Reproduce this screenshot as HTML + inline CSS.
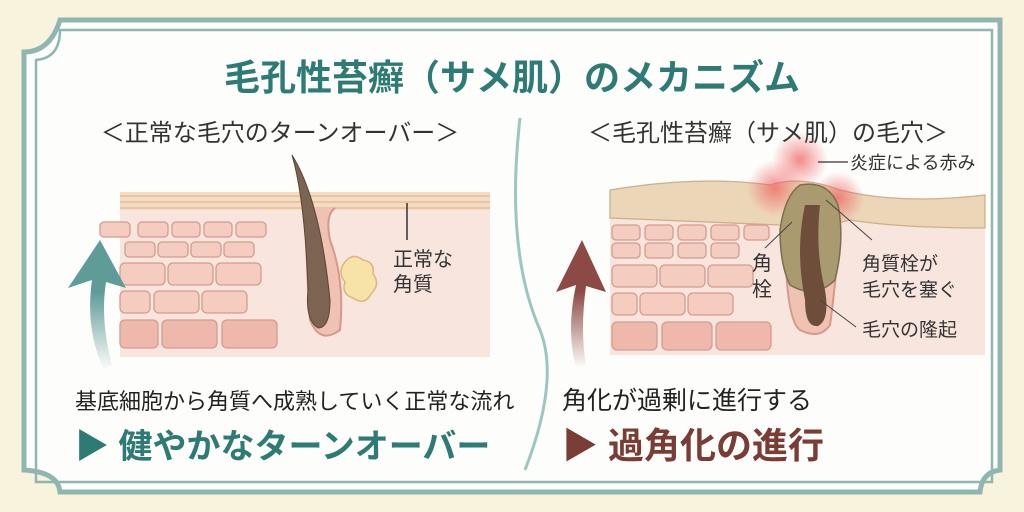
<!DOCTYPE html>
<html><head><meta charset="utf-8"><style>
html,body{margin:0;padding:0;width:1024px;height:512px;overflow:hidden;background:#f8f3dc}
svg{display:block}
text{font-family:"Liberation Sans","Noto Sans CJK JP",sans-serif}
</style></head><body>
<svg width="1024" height="512" viewBox="0 0 1024 512" xmlns="http://www.w3.org/2000/svg">
<defs>
<radialGradient id="red" cx="0.5" cy="0.5" r="0.5">
<stop offset="0" stop-color="#ee5a5a" stop-opacity="0.7"/>
<stop offset="1" stop-color="#ee5a5a" stop-opacity="0"/>
</radialGradient>
<linearGradient id="ar1" x1="0" y1="1" x2="0" y2="0"><stop offset="0" stop-color="#5f9c98" stop-opacity="0"/><stop offset="0.6" stop-color="#5f9c98"/></linearGradient>
<linearGradient id="ar2" x1="0" y1="1" x2="0" y2="0"><stop offset="0" stop-color="#8d4a44" stop-opacity="0"/><stop offset="0.6" stop-color="#8d4a44"/></linearGradient>
</defs>
<path d="M60 20 H1000 V470 Q982 472 980 492 H60 Q58 472 24 470 V52 Q50 52 60 20 Z" fill="#fdfdfb" stroke="#8fb6b0" stroke-width="5"/>
<path d="M60 30 H992 V482 H36 V60 Q60 58 60 30 Z" fill="none" stroke="#8fb6b0" stroke-width="2.5"/>
<text x="512" y="90" font-size="36" font-weight="bold" fill="#2e7a74" text-anchor="middle">毛孔性苔癬（サメ肌）のメカニズム</text>
<text x="280" y="141" font-size="24" fill="#333" text-anchor="middle">＜正常な毛穴のターンオーバー＞</text>
<text x="768" y="141" font-size="24" fill="#333" text-anchor="middle">＜毛孔性苔癬（サメ肌）の毛穴＞</text>
<path d="M520 118 Q505 250 540 330 Q560 380 525 470" fill="none" stroke="#9cc6c0" stroke-width="3"/>
<rect x="120" y="192" width="370" height="165" fill="#f8e6de"/>
<rect x="120" y="192" width="370" height="18" fill="#f3dcc4"/>
<path d="M120 196 H490 M120 202 H490 M120 208 H490" stroke="#e4b58f" stroke-width="1.3"/>
<g fill="#f4ccc0" stroke="#d49c8e" stroke-width="1.3">
<rect x="100" y="222" width="30" height="15" rx="4"/><rect x="138" y="222" width="30" height="15" rx="4"/><rect x="172" y="222" width="28" height="15" rx="4"/><rect x="204" y="222" width="28" height="15" rx="4"/><rect x="236" y="222" width="30" height="15" rx="4"/>
<rect x="125" y="242" width="30" height="15" rx="4"/><rect x="158" y="242" width="30" height="15" rx="4"/><rect x="191" y="242" width="30" height="15" rx="4"/><rect x="224" y="242" width="30" height="15" rx="4"/>
<rect x="120" y="263" width="45" height="22" rx="5"/><rect x="168" y="263" width="45" height="22" rx="5"/><rect x="216" y="263" width="45" height="22" rx="5"/>
<rect x="120" y="291" width="30" height="22" rx="5"/><rect x="154" y="291" width="45" height="22" rx="5"/><rect x="202" y="291" width="45" height="22" rx="5"/>
<rect x="120" y="320" width="38" height="28" rx="5" fill="#eeb9ac"/><rect x="162" y="320" width="55" height="28" rx="5" fill="#eeb9ac"/><rect x="222" y="320" width="55" height="28" rx="5" fill="#eeb9ac"/>
</g>
<path d="M305 208 Q308 300 310 320 Q320 345 340 330 Q345 280 330 240 Q325 215 335 208" fill="#f0c2b4" stroke="#d7978a" stroke-width="2"/>
<path d="M345 262 q8 -10 18 -2 q12 2 10 14 q8 10 -2 20 q-6 12 -18 4 q-12 -4 -8 -16 q-8 -10 0 -20z" fill="#f7e3a8" stroke="#dfb57e" stroke-width="1.5"/>
<path d="M292 155 Q320 200 330 300 Q330 328 318 328 Q305 320 308 290 Q305 200 292 155Z" fill="#7d6452" stroke="#5a4535" stroke-width="1"/>
<line x1="407" y1="203" x2="407" y2="240" stroke="#333" stroke-width="1.5"/>
<text x="393" y="266" font-size="20" fill="#333">正常な</text>
<text x="393" y="291" font-size="20" fill="#333">角質</text>
<path d="M104 370 Q85 330 92 280 L68 288 L100 240 L126 288 L106 282 Q100 320 112 365Z" fill="url(#ar1)"/>
<rect x="610" y="200" width="375" height="155" fill="#f8e6de"/>
<path d="M610 190 Q700 175 770 185 Q800 175 840 190 Q900 205 985 195 L985 228 Q900 228 850 220 L830 225 L780 225 Q700 222 610 218Z" fill="#ecd6b8" stroke="#cfae8a" stroke-width="1.3"/>
<circle cx="775" cy="188" r="28" fill="url(#red)"/><circle cx="838" cy="198" r="26" fill="url(#red)"/><circle cx="800" cy="160" r="28" fill="url(#red)"/>
<g fill="#f4ccc0" stroke="#d49c8e" stroke-width="1.3">
<rect x="612" y="225" width="28" height="15" rx="4"/><rect x="645" y="225" width="28" height="15" rx="4"/><rect x="678" y="225" width="28" height="15" rx="4"/><rect x="711" y="225" width="28" height="15" rx="4"/><rect x="744" y="225" width="25" height="15" rx="4"/>
<rect x="612" y="243" width="28" height="15" rx="4"/><rect x="645" y="243" width="28" height="15" rx="4"/><rect x="678" y="243" width="28" height="15" rx="4"/><rect x="711" y="243" width="28" height="15" rx="4"/>
<rect x="612" y="265" width="45" height="22" rx="5"/><rect x="660" y="265" width="45" height="22" rx="5"/><rect x="708" y="265" width="45" height="22" rx="5"/>
<rect x="612" y="293" width="25" height="22" rx="5"/><rect x="640" y="293" width="45" height="22" rx="5"/><rect x="688" y="293" width="45" height="22" rx="5"/>
<rect x="612" y="322" width="45" height="28" rx="5" fill="#eeb9ac"/><rect x="662" y="322" width="50" height="28" rx="5" fill="#eeb9ac"/><rect x="716" y="322" width="55" height="28" rx="5" fill="#eeb9ac"/>
</g>
<path d="M785 225 Q785 320 800 330 Q820 340 830 325 Q835 290 840 225Z" fill="#f0c2b4" stroke="#d7978a" stroke-width="2"/>
<path d="M800 185 Q785 195 780 230 Q780 265 790 285 Q815 300 835 280 Q845 240 838 205 Q828 180 800 185Z" fill="#a99a70" stroke="#7c6e4c" stroke-width="1.5"/>
<path d="M805 205 Q795 250 805 300 Q805 328 818 326 Q830 320 825 290 Q815 250 820 205Z" fill="#6e4e3a"/>
<line x1="818" y1="162" x2="848" y2="162" stroke="#333" stroke-width="1.2"/>
<text x="850" y="169" font-size="18" fill="#333">炎症による赤み</text>
<line x1="765" y1="248" x2="792" y2="222" stroke="#444" stroke-width="1"/>
<line x1="826" y1="200" x2="872" y2="240" stroke="#444" stroke-width="1"/>
<line x1="820" y1="300" x2="856" y2="327" stroke="#444" stroke-width="1"/>
<text x="752" y="270" font-size="20" fill="#333">角</text>
<text x="752" y="296" font-size="20" fill="#333">栓</text>
<text x="862" y="270" font-size="19" fill="#333">角質栓が</text>
<text x="862" y="296" font-size="19" fill="#333">毛穴を塞ぐ</text>
<text x="862" y="336" font-size="19" fill="#333">毛穴の隆起</text>
<path d="M576 368 Q566 330 576 285 L556 292 L582 240 L606 292 L586 286 Q580 330 586 365Z" fill="url(#ar2)"/>
<text x="75" y="409" font-size="22" fill="#222">基底細胞から角質へ成熟していく正常な流れ</text>
<text x="75" y="458" font-size="34" font-weight="bold" fill="#2e7a74">▶ 健やかなターンオーバー</text>
<text x="562" y="409" font-size="25" fill="#222">角化が過剰に進行する</text>
<text x="562" y="458" font-size="36" font-weight="bold" fill="#7a3d36">▶ 過角化の進行</text>
</svg>
</body></html>
